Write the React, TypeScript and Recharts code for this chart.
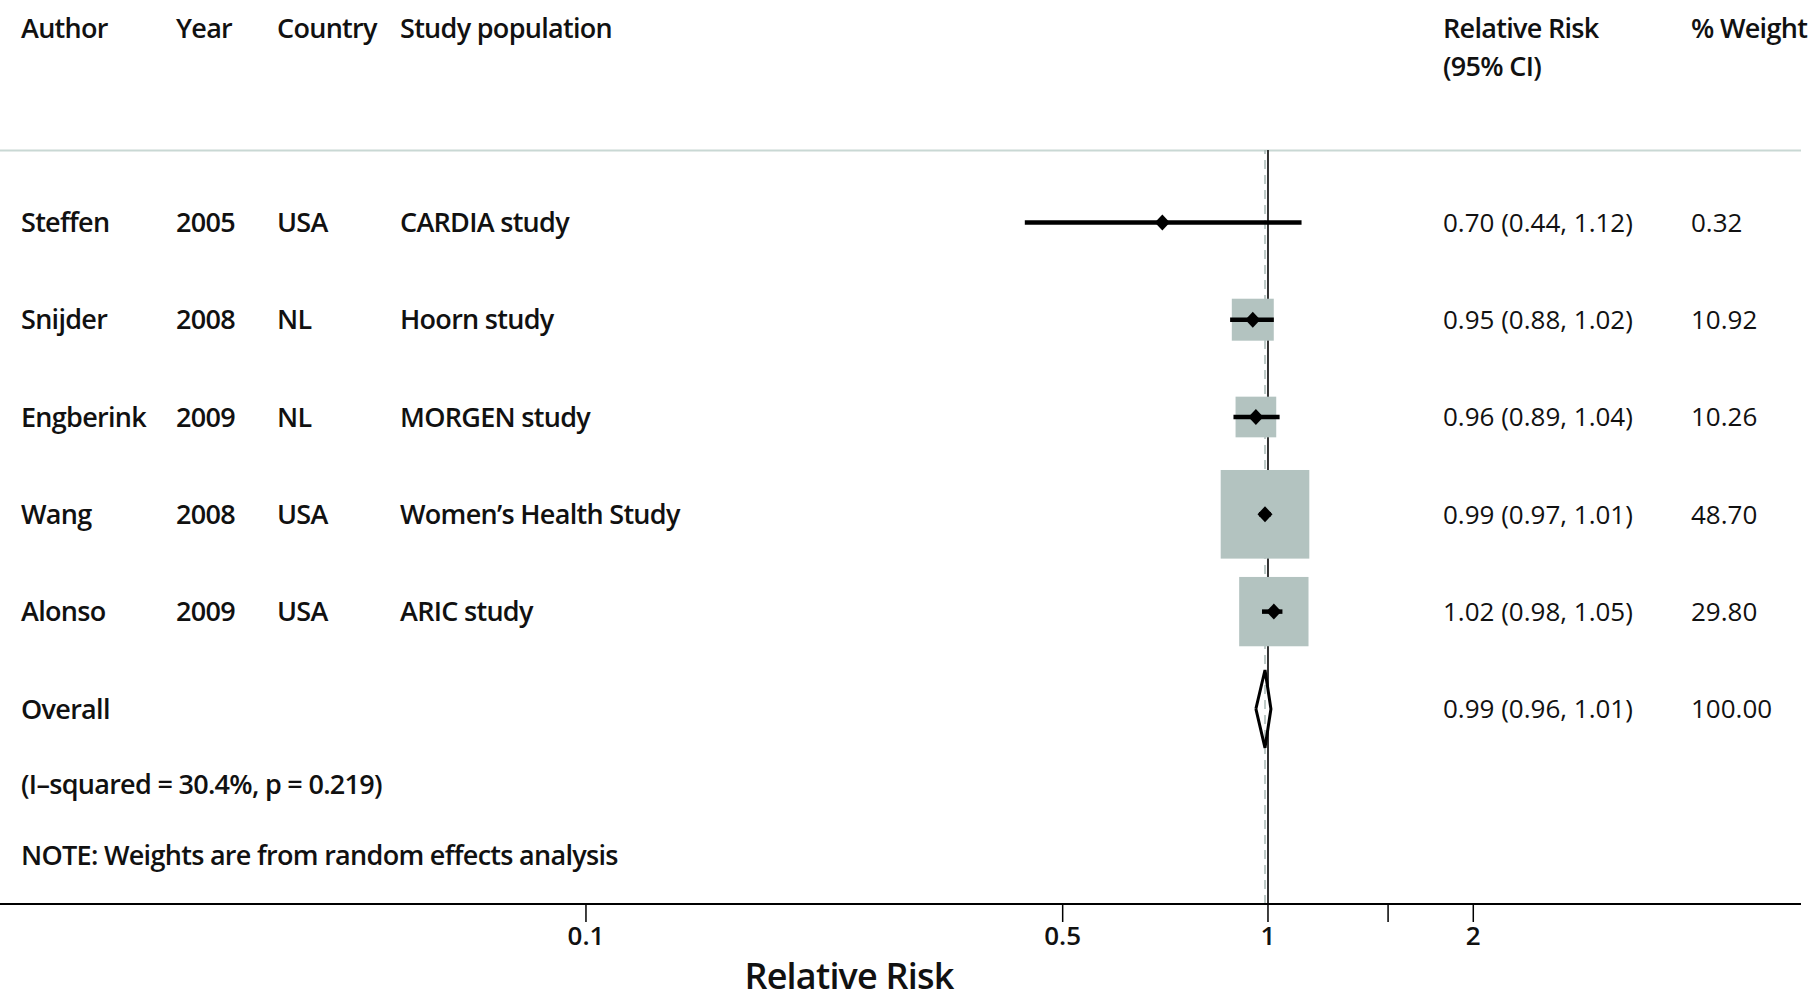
import React from "react";
import {
  ComposedChart,
  XAxis,
  YAxis,
  Scatter,
  ReferenceLine,
  Customized,
} from "recharts";

// study rows
const authors = ["Steffen", "Snijder", "Engberink", "Wang", "Alonso"];
const years = ["2005", "2008", "2009", "2008", "2009"];
const countries = ["USA", "NL", "NL", "USA", "USA"];
const populations = [
  "CARDIA study",
  "Hoorn study",
  "MORGEN study",
  "Women’s Health Study",
  "ARIC study",
];
const relRisk = [0.7, 0.95, 0.96, 0.99, 1.02];
const ciLow = [0.44, 0.88, 0.89, 0.97, 0.98];
const ciHigh = [1.12, 1.02, 1.04, 1.01, 1.05];
const weights = [0.32, 10.92, 10.26, 48.7, 29.8];

// pooled estimate
const overallLabel = "Overall";
const overallRR = 0.99;
const overallLow = 0.96;
const overallHigh = 1.01;
const overallWeight = 100;

const heterogeneity = "(I–squared = 30.4%, p = 0.219)";
const note = "NOTE: Weights are from random effects analysis";

const xTicks = [0.1, 0.5, 1, 1.5, 2];
const xTickLabels = ["0.1", "0.5", "1", "", "2"];

// layout
const W = 1816;
const H = 1003;
const FONT = "'Open Sans', sans-serif";
const X_DOMAIN = [0.01383, 6.047];
const Y_TOP = -0.744;
const Y_BOTTOM = 7.005;
const OVERALL_ROW = authors.length;
const DIAMOND_HALF = 0.4;
const BOX_SCALE = 12.7;
const COLS = { author: 21, year: 176, country: 277, pop: 400, rr: 1443, weight: 1691 };

const fmt = (v: number) => v.toFixed(2);

const studies = authors.map((a, i) => ({ row: i, rr: relRisk[i], weight: weights[i] }));

// one row of text per study plus the pooled row, placed by the y scale
const textRows = [
  ...authors.map((a, i) => ({
    row: i,
    rr: relRisk[i],
    cells: [a, years[i], countries[i], populations[i]],
    est: `${fmt(relRisk[i])} (${fmt(ciLow[i])}, ${fmt(ciHigh[i])})`,
    w: fmt(weights[i]),
  })),
  {
    row: OVERALL_ROW,
    rr: overallRR,
    cells: [overallLabel, "", "", ""],
    est: `${fmt(overallRR)} (${fmt(overallLow)}, ${fmt(overallHigh)})`,
    w: fmt(overallWeight),
  },
];

const diamond = [
  { rr: overallLow, row: OVERALL_ROW },
  { rr: overallRR, row: OVERALL_ROW - DIAMOND_HALF },
  { rr: overallHigh, row: OVERALL_ROW },
  { rr: overallRR, row: OVERALL_ROW + DIAMOND_HALF },
  { rr: overallLow, row: OVERALL_ROW },
];

const labelStyle = { fontFamily: FONT, fontSize: 27, fontWeight: 600, letterSpacing: -0.7, fill: "#111" };
const numStyle = { fontFamily: FONT, fontSize: 26, fontWeight: 400, fill: "#111" };

const RowText = (props: any) => {
  const { cy, payload } = props;
  const xs = [COLS.author, COLS.year, COLS.country, COLS.pop];
  return (
    <g>
      {payload.cells.map((c: string, k: number) =>
        c ? (
          <text key={k} x={xs[k]} y={cy} dy="0.36em" {...labelStyle}>
            {c}
          </text>
        ) : null
      )}
      <text x={COLS.rr} y={cy} dy="0.36em" {...numStyle}>{payload.est}</text>
      <text x={COLS.weight} y={cy} dy="0.36em" {...numStyle}>{payload.w}</text>
    </g>
  );
};

const WeightBox = (props: any) => {
  const { cx, cy, payload } = props;
  const s = BOX_SCALE * Math.sqrt(payload.weight);
  return <rect x={cx - s / 2} y={cy - s / 2} width={s} height={s} fill="#b3c3c0" />;
};

const PointMark = (props: any) => {
  const { cx, cy } = props;
  return (
    <polygon
      points={`${cx - 7.5},${cy} ${cx},${cy - 8} ${cx + 7.5},${cy} ${cx},${cy + 8}`}
      fill="#000"
    />
  );
};

const NoMark = () => <g />;

const Annotations = () => (
  <g>
    <text x={COLS.author} y={37.5} {...labelStyle}>Author</text>
    <text x={COLS.year} y={37.5} {...labelStyle}>Year</text>
    <text x={COLS.country} y={37.5} {...labelStyle}>Country</text>
    <text x={COLS.pop} y={37.5} {...labelStyle}>Study population</text>
    <text x={COLS.rr} y={37.5} {...labelStyle}>Relative Risk</text>
    <text x={COLS.rr} y={75.5} {...labelStyle}>(95% CI)</text>
    <text x={COLS.weight} y={37.5} {...labelStyle}>% Weight</text>
    <line x1={0} x2={1801} y1={150.5} y2={150.5} stroke="#c9d8d4" strokeWidth={2} />
    <text x={COLS.author} y={793.5} {...labelStyle}>{heterogeneity}</text>
    <text x={COLS.author} y={864.5} {...labelStyle}>{note}</text>
    <text
      x={849}
      y={989}
      textAnchor="middle"
      fontFamily={FONT}
      fontSize={36}
      fontWeight={600}
      letterSpacing={-0.8}
      fill="#111"
    >
      Relative Risk
    </text>
  </g>
);

export default function App() {
  return (
    <div style={{ position: "absolute", left: 0, top: 0, width: W, height: H, background: "#fff" }}>
      <ComposedChart
        width={W}
        height={H}
        margin={{ top: 150, right: 15, left: 0, bottom: 0 }}
      >
        <XAxis
          type="number"
          dataKey="rr"
          scale="log"
          domain={X_DOMAIN}
          allowDataOverflow
          ticks={xTicks}
          interval={0}
          height={99}
          tickSize={18}
          tickMargin={5}
          tickFormatter={(v: number) => xTickLabels[xTicks.indexOf(v)] ?? ""}
          axisLine={{ stroke: "#000", strokeWidth: 2 }}
          tickLine={{ stroke: "#000", strokeWidth: 1.5 }}
          tick={{ fill: "#111", fontSize: 26, fontWeight: 600, fontFamily: FONT }}
        />
        <YAxis
          type="number"
          dataKey="row"
          domain={[Y_TOP, Y_BOTTOM]}
          reversed
          allowDataOverflow
          hide
        />
        <ReferenceLine
          x={overallRR}
          stroke="#a9bab6"
          strokeWidth={1.5}
          strokeDasharray="9 6"
        />
        <ReferenceLine
          segment={[{ x: 1, y: Y_TOP }, { x: 1, y: OVERALL_ROW - DIAMOND_HALF / 2 }]}
          ifOverflow="visible"
          stroke="#333"
          strokeWidth={2}
        />
        <ReferenceLine
          segment={[{ x: 1, y: OVERALL_ROW + DIAMOND_HALF / 2 }, { x: 1, y: Y_BOTTOM }]}
          ifOverflow="visible"
          stroke="#333"
          strokeWidth={2}
        />
        <Scatter data={textRows} shape={RowText} isAnimationActive={false} />
        <Scatter data={studies} shape={WeightBox} isAnimationActive={false} />
        {authors.map((a, i) => (
          <Scatter
            key={a}
            data={[
              { rr: ciLow[i], row: i },
              { rr: ciHigh[i], row: i },
            ]}
            shape={NoMark}
            fill="#000"
            line={{ stroke: "#000", strokeWidth: 4.5 }}
            isAnimationActive={false}
          />
        ))}
        <Scatter data={studies} shape={PointMark} fill="#000" isAnimationActive={false} />
        <Scatter
          data={diamond}
          shape={NoMark}
          fill="#000"
          line={{ stroke: "#000", strokeWidth: 3 }}
          isAnimationActive={false}
        />
        <Customized component={Annotations} />
      </ComposedChart>
    </div>
  );
}
